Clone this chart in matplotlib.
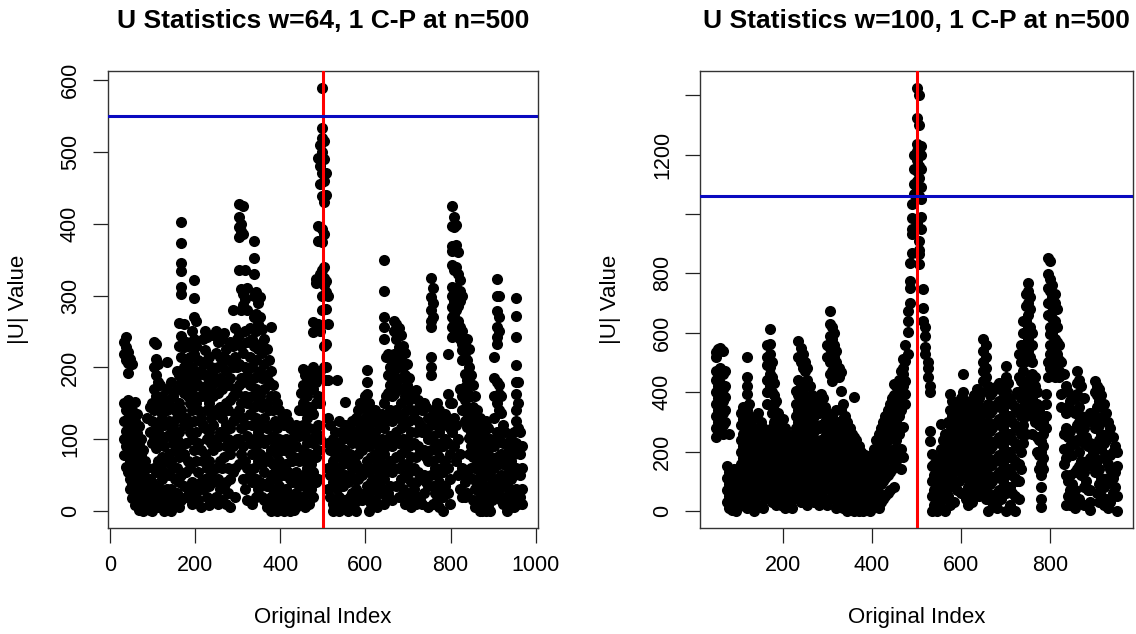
import matplotlib
matplotlib.use("Agg")
import matplotlib.pyplot as plt

plt.rcParams['font.family'] = ['Liberation Sans', 'DejaVu Sans']

# ---- panel 1: w=64 ----
idx1 = list(range(33, 969, 5))
u1 = [
    [235, 218, 150, 125, 100, 78], [242, 228, 210, 140, 112, 90, 62],
    [222, 206, 192, 155, 130, 105, 80, 55], [212, 148, 120, 95, 70, 45, 30],
    [205, 140, 112, 85, 60, 38, 18], [152, 125, 100, 75, 48, 22, 8],
    [135, 108, 88, 65, 40, 15], [118, 92, 70, 30, 10, 2],
    [100, 78, 55, 25, 5], [85, 60, 42, 18, 0], [70, 48, 30, 12],
    [130, 60, 35, 20, 5], [145, 110, 45, 25, 2], [150, 125, 95, 40, 15, 0],
    [235, 200, 170, 140, 100, 60, 30, 8], [232, 212, 190, 160, 120, 88, 55, 22],
    [205, 180, 145, 110, 70, 35, 5], [175, 150, 125, 95, 60, 20],
    [160, 135, 100, 75, 45, 10], [150, 120, 90, 55, 25, 0],
    [207, 170, 140, 105, 68, 30, 5], [155, 125, 80, 50, 15],
    [180, 145, 110, 70, 30, 0], [160, 120, 95, 60, 20],
    [140, 110, 85, 45, 10], [195, 170, 130, 100, 60, 25],
    [262, 230, 190, 150, 110, 75, 40, 5],
    [402, 373, 346, 334, 312, 302, 243, 215, 180, 140, 90, 50, 15],
    [260, 228, 200, 165, 120, 80, 35], [235, 205, 170, 130, 95, 55, 20],
    [230, 190, 160, 120, 70, 30], [215, 180, 150, 110, 60, 20],
    [250, 200, 170, 140, 100, 40, 10],
    [321, 297, 270, 240, 219, 195, 160, 125, 85, 35],
    [264, 230, 185, 150, 110, 70, 25], [210, 175, 140, 95, 55, 15],
    [195, 160, 130, 85, 40, 5], [240, 205, 170, 120, 70, 30],
    [251, 224, 190, 160, 115, 80, 45], [242, 210, 175, 140, 100, 60, 20],
    [215, 180, 150, 110, 70, 35, 8], [200, 170, 130, 95, 50, 15],
    [245, 190, 160, 120, 85, 40], [250, 220, 180, 140, 100, 60, 20],
    [235, 200, 165, 135, 90, 45, 10], [215, 185, 145, 110, 70, 30],
    [240, 200, 170, 130, 105, 60, 15], [248, 215, 180, 140, 110, 75, 35],
    [225, 195, 150, 120, 90, 40, 10], [210, 175, 140, 100, 60, 25],
    [235, 185, 155, 115, 80, 45, 5], [280, 230, 200, 160, 125, 90, 55],
    [255, 215, 170, 135, 95, 60, 20], [240, 200, 165, 130, 100],
    [428, 409, 395, 381, 335, 245, 205, 175, 140, 100, 65],
    [400, 390, 309, 280, 230, 185, 150, 115, 80],
    [425, 385, 302, 287, 220, 180, 130, 90, 45],
    [335, 295, 250, 200, 160, 120, 70, 30],
    [310, 280, 235, 190, 150, 105, 60, 15], [255, 215, 175, 135, 95, 50],
    [240, 200, 160, 120, 80, 40, 10],
    [376, 352, 330, 300, 270, 230, 185, 145, 100, 60],
    [305, 275, 250, 210, 170, 130, 90, 45, 20],
    [290, 260, 225, 190, 150, 110, 70, 30],
    [298, 270, 232, 195, 160, 120, 80, 40],
    [254, 220, 185, 145, 100, 65, 20], [240, 205, 170, 130, 95, 55, 15],
    [225, 190, 150, 115, 75, 35, 5], [210, 180, 140, 100, 70, 40, 10],
    [256, 195, 160, 120, 85, 50, 20, 0], [175, 140, 105, 65, 30, 5],
    [160, 125, 90, 55, 20], [150, 115, 80, 45, 15, 0],
    [140, 100, 70, 35, 10], [130, 95, 60, 25, 5], [120, 85, 50, 20, 0],
    [135, 100, 65, 30, 8], [125, 90, 55, 25, 5], [115, 80, 45, 15, 0],
    [100, 70, 40, 12], [110, 75, 45, 20, 2], [120, 90, 55, 25, 5],
    [140, 105, 70, 35, 10], [165, 140, 110, 75, 40, 15],
    [198, 175, 150, 120, 85, 50, 20], [190, 168, 140, 105, 70, 35, 5],
    [182, 160, 130, 95, 60, 25], [195, 175, 145, 115, 80, 45, 10],
    [190, 170, 140, 100, 65, 30], [263, 249, 200, 170, 135, 95, 55, 20],
    [323, 318, 180, 150, 110, 75, 40],
    [492, 397, 376, 260, 190, 160, 120, 85, 45],
    [510, 480, 455, 330, 320, 250, 195, 150, 100],
    [589, 533, 520, 500, 470, 438, 393, 375, 335, 300, 280],
    [515, 490, 460, 430, 385, 340, 325, 315, 230, 200],
    [470, 440, 320, 305, 281, 233, 200, 182],
    [300, 260, 182, 130, 95, 60, 30], [120, 85, 50, 20],
    [100, 70, 40, 10, 0], [110, 80, 45, 15], [183, 95, 60, 30, 5],
    [125, 90, 55, 20, 0], [110, 75, 40, 10], [100, 65, 35, 5],
    [152, 120, 85, 50, 15], [105, 70, 40, 10, 0], [115, 80, 50, 20],
    [125, 95, 60, 25, 5], [110, 75, 45, 10], [130, 100, 65, 30, 0],
    [140, 110, 80, 45, 15], [150, 120, 90, 55, 20], [145, 115, 85, 50, 15],
    [160, 130, 100, 60, 25], [196, 180, 163, 140, 110, 70, 35],
    [150, 120, 90, 55, 20, 0], [135, 105, 75, 40, 10], [125, 95, 60, 30],
    [140, 110, 80, 45, 15], [130, 100, 70, 35, 5], [120, 90, 55, 25],
    [135, 100, 65, 30],
    [350, 307, 270, 256, 240, 150, 115, 80, 45, 10],
    [215, 160, 125, 90, 55, 20], [219, 190, 165, 130, 95, 60, 25],
    [200, 175, 140, 105, 70, 35], [210, 185, 160, 125, 90, 55, 15],
    [265, 250, 219, 190, 163, 130, 100, 60],
    [260, 240, 205, 175, 140, 110, 75, 35],
    [255, 228, 200, 170, 130, 95, 60, 20],
    [245, 215, 185, 150, 115, 80, 45], [230, 200, 170, 135, 100, 65, 30],
    [220, 190, 160, 120, 85, 50, 10], [205, 175, 140, 100, 65, 25],
    [185, 155, 125, 90, 55, 20], [165, 140, 110, 75, 40, 5],
    [160, 130, 95, 60, 30], [168, 140, 110, 75, 40, 10],
    [155, 125, 90, 55, 20], [150, 120, 85, 50, 15], [140, 110, 80, 45, 10],
    [150, 115, 85, 50, 25], [145, 110, 75, 40], [130, 100, 70, 35, 5],
    [325, 298, 280, 265, 256, 214, 200, 189, 120, 85, 50],
    [310, 290, 270, 140, 105, 70, 35, 10], [130, 95, 60, 25],
    [150, 120, 85, 50, 15], [140, 110, 75, 40, 5], [130, 95, 60, 30],
    [120, 90, 55, 20, 0], [135, 100, 70, 35], [219, 163, 125, 95, 60, 25],
    [150, 115, 80, 45, 10],
    [425, 397, 369, 362, 342, 312, 300, 284, 270, 256, 242, 150, 110],
    [409, 395, 365, 335, 305, 293, 275, 260, 245, 130, 90],
    [398, 370, 340, 310, 295, 280, 265, 250, 120, 70],
    [360, 330, 300, 285, 265, 250, 100, 50],
    [321, 307, 293, 256, 240, 170, 80, 30],
    [300, 250, 233, 224, 210, 160, 140, 60, 20],
    [233, 214, 191, 173, 155, 126, 57, 40, 20],
    [240, 210, 182, 165, 145, 136, 117, 50, 25],
    [226, 200, 180, 160, 140, 101, 80], [190, 160, 130, 110, 90, 60],
    [175, 145, 120, 100, 75, 45, 15], [160, 135, 110, 85, 60, 30, 5],
    [140, 115, 90, 65, 40, 15], [130, 105, 80, 55, 25, 0],
    [120, 95, 70, 45, 15, 0], [110, 90, 65, 35, 10],
    [125, 100, 75, 50, 20, 0], [115, 85, 60, 30, 5], [100, 75, 50, 25, 0],
    [95, 70, 40, 15], [214, 185, 160, 130, 90, 60, 35],
    [323, 300, 279, 256, 242, 233, 180, 150, 110, 75, 45, 20],
    [300, 270, 250, 175, 163, 140, 100, 65, 30],
    [160, 136, 110, 80, 50, 15], [120, 95, 65, 35, 10], [110, 80, 50, 20],
    [95, 70, 40, 15, 0], [85, 60, 30, 8], [100, 70, 45, 20],
    [110, 80, 50, 25, 5],
    [297, 272, 242, 203, 180, 163, 140, 126, 95, 60, 30],
    [180, 150, 115, 85, 55, 25, 10], [110, 80, 50, 20], [90, 60, 30, 10],
]

# ---- panel 2: w=100 ----
idx2 = list(range(50, 951, 5))
u2 = [
    [535, 520, 470, 440, 400, 360, 320, 280, 250], [545, 455, 420, 380, 340, 300, 265],
    [550, 480, 430, 395, 350, 310, 270], [540, 460, 410, 370, 330, 290, 260],
    [470, 420, 385, 340, 300], [150, 110, 70, 30], [260, 130, 90, 50, 10],
    [120, 80, 40, 5], [140, 100, 60, 20], [110, 70, 30, 0], [90, 50, 15],
    [330, 290, 240, 200, 160, 120, 80], [350, 310, 260, 220, 180, 130, 60, 20],
    [300, 250, 210, 170, 140, 90, 40],
    [517, 450, 420, 394, 340, 290, 240, 190, 150, 100, 50, 10],
    [360, 320, 270, 220, 180, 130, 80, 30], [310, 260, 210, 170, 120, 60],
    [280, 240, 200, 150, 100, 40, 0], [250, 210, 170, 130, 90, 50],
    [330, 260, 220, 180, 140, 100, 60, 20], [300, 240, 200, 160, 120, 80],
    [280, 230, 190, 150, 110, 60, 10], [250, 210, 170, 130, 90, 40],
    [560, 520, 490, 440, 400, 360, 230, 190, 140, 90, 50],
    [612, 562, 530, 484, 461, 420, 260, 210, 160, 110, 60],
    [500, 450, 400, 330, 280, 230, 170, 120, 80, 30],
    [430, 390, 360, 300, 250, 200, 150, 100, 50],
    [372, 320, 270, 220, 180, 130, 70, 20], [330, 290, 240, 200, 150, 100, 40],
    [300, 260, 210, 170, 120, 70, 20], [310, 270, 230, 190, 140, 90, 40],
    [280, 240, 200, 160, 110, 60, 10], [260, 220, 180, 140, 90, 50],
    [240, 200, 160, 120, 80, 30], [230, 190, 150, 110, 60, 10],
    [260, 210, 170, 130, 90, 40], [405, 360, 320, 280, 240, 200, 150, 100, 60],
    [573, 520, 440, 390, 340, 300, 250, 200, 160, 110],
    [550, 500, 420, 370, 330, 280, 230, 180, 130, 80, 30],
    [530, 480, 400, 350, 305, 260, 210, 160, 110, 60],
    [500, 472, 430, 380, 330, 280, 240, 190, 140, 90, 40],
    [480, 440, 360, 310, 260, 210, 170, 120, 70, 20],
    [420, 380, 340, 290, 240, 190, 140, 90, 40],
    [390, 350, 300, 250, 200, 150, 110, 60],
    [360, 320, 270, 220, 180, 130, 80, 30], [340, 290, 240, 200, 150, 100, 50],
    [370, 330, 280, 230, 180, 130, 80, 20], [394, 340, 290, 240, 200, 150, 100, 50],
    [380, 330, 280, 230, 180, 120, 70], [350, 300, 250, 200, 150, 100, 40],
    [560, 520, 330, 280, 230, 180, 130, 80, 20],
    [674, 629, 590, 550, 500, 460, 300, 250, 200, 150, 100],
    [620, 580, 540, 510, 470, 439, 320, 270, 220, 170, 120, 60],
    [600, 560, 520, 480, 450, 290, 240, 190, 140, 90, 40],
    [540, 500, 460, 340, 270, 220, 170, 120, 70, 10],
    [480, 450, 300, 250, 200, 150, 100, 50],
    [467, 405, 340, 280, 230, 180, 130, 80, 30],
    [360, 310, 260, 210, 160, 110, 60, 10], [320, 280, 230, 180, 130, 80, 30],
    [300, 250, 210, 160, 110, 60, 0], [280, 230, 190, 140, 90, 40],
    [260, 210, 170, 120, 70, 20], [383, 250, 200, 150, 100, 50, 0],
    [240, 190, 140, 90, 40], [220, 180, 130, 80, 30, 0], [200, 160, 110, 60, 20],
    [180, 140, 90, 50, 0], [190, 150, 100, 60, 10], [170, 130, 80, 30],
    [160, 120, 70, 20, 0], [190, 150, 100, 50, 10], [210, 170, 120, 70, 20],
    [240, 200, 150, 100, 50], [260, 220, 170, 120, 60, 10],
    [280, 240, 190, 140, 90, 30], [300, 250, 200, 150, 100, 40],
    [320, 270, 220, 170, 110, 50], [340, 290, 240, 180, 120, 60],
    [360, 310, 250, 190, 130, 70], [380, 330, 270, 200, 140],
    [428, 390, 340, 280, 210, 150, 80], [420, 360, 300, 240, 170],
    [440, 380, 320, 260, 190], [470, 400, 340, 280, 210, 140],
    [512, 480, 461, 420, 282, 181], [560, 506, 439, 394, 360],
    [674, 640, 601, 530], [836, 775, 752, 700], [1032, 987, 948, 931, 870],
    [1066, 1100, 1150, 1200],
    [1424, 1323, 1234, 1211, 1180, 1144, 1111, 1088, 1060, 971],
    [1400, 1300, 1220, 1160, 1120, 1060, 909, 880, 864, 831],
    [1230, 1200, 1150, 1090, 1050, 990, 950], [747, 685, 640],
    [618, 590, 551, 528], [500, 480, 450], [420, 400, 271, 237],
    [193, 150, 100, 50, 0], [160, 120, 70, 20], [140, 90, 40, 0],
    [180, 130, 80, 30], [293, 210, 160, 110, 60, 10], [240, 190, 140, 90, 40],
    [260, 210, 160, 110, 60, 0], [300, 250, 200, 150, 100, 50],
    [394, 340, 290, 240, 190, 140, 80, 20], [370, 320, 270, 220, 170, 120],
    [350, 300, 250, 200, 150, 90, 30], [340, 290, 240, 190, 140, 70],
    [360, 310, 260, 210, 160, 100], [380, 330, 280, 230, 180, 130, 60],
    [461, 400, 350, 300, 250, 200, 140], [370, 320, 270, 220, 170, 110, 40],
    [350, 300, 250, 200, 140, 80, 20], [330, 280, 230, 180, 120, 60],
    [360, 310, 260, 210, 150, 90, 30], [390, 340, 290, 240, 180, 120, 50],
    [410, 360, 310, 260, 200, 140, 80], [380, 330, 280, 230, 170, 110, 50],
    [400, 350, 300, 250, 190, 130, 70],
    [579, 540, 500, 470, 439, 330, 270, 210, 150, 90],
    [560, 520, 480, 450, 350, 290, 230, 170, 110, 40],
    [420, 360, 300, 240, 180, 120, 60, 0], [390, 330, 270, 210, 150, 90],
    [400, 340, 280, 220, 160, 100, 30], [410, 350, 290, 230, 170, 110, 50],
    [420, 360, 300, 240, 180, 120, 60, 10], [430, 370, 310, 250, 190, 130, 70],
    [410, 350, 290, 230, 170, 110, 40], [400, 340, 280, 220, 160, 100],
    [489, 450, 405, 360, 300, 240, 180, 120, 60, 0],
    [430, 380, 320, 260, 200, 140, 80], [380, 320, 260, 200, 140, 80, 20],
    [360, 300, 240, 180, 120, 60], [350, 290, 230, 170, 110, 50, 0],
    [400, 340, 280, 220, 160, 100],
    [528, 450, 394, 340, 280, 220, 160, 100, 40],
    [560, 500, 439, 380, 320, 260, 200, 140],
    [640, 600, 560, 520, 470, 410, 350, 290, 230],
    [730, 690, 640, 600, 540, 506, 380, 320, 260],
    [769, 740, 700, 660, 618, 580, 540, 420, 360],
    [720, 680, 620, 560, 520, 450, 400, 340],
    [600, 560, 500, 460, 380, 320, 260], [450, 420, 360, 300],
    [400, 360, 310, 250, 200], [340, 290, 240, 190, 140],
    [237, 200, 160, 120, 80, 40, 13], [300, 260, 220, 180, 140],
    [394, 360, 320, 280], [853, 797, 752, 700, 660, 500, 450],
    [842, 780, 740, 700, 660, 618, 596, 560, 528, 480],
    [760, 720, 690, 650, 600, 560, 517, 470],
    [730, 700, 640, 580, 540, 500, 450], [680, 620, 570, 530, 490],
    [560, 510, 470, 450], [500, 460, 394, 350], [460, 260, 210, 160],
    [420, 330, 280, 180, 120, 20], [400, 350, 250, 200, 100, 50],
    [370, 270, 220, 120, 70, 20], [340, 240, 190, 90, 40],
    [380, 330, 230, 130, 70, 10], [472, 430, 394, 290, 240, 140],
    [440, 350, 300, 200, 150, 40], [420, 320, 270, 170, 120],
    [380, 280, 230, 130, 80, 20], [300, 250, 150, 100],
    [320, 220, 170, 70], [330, 230, 180, 70, 30, 2],
    [300, 200, 150], [439, 400, 320, 280, 180, 130],
    [420, 390, 350, 316, 220, 170, 60], [410, 370, 290, 240, 140, 90, 30],
    [390, 350, 260, 210, 110, 50], [360, 320, 230, 180, 80, 20],
    [330, 240, 190, 90, 40], [300, 260, 160, 110, 10],
    [280, 190, 140, 30], [250, 200, 110, 60], [220, 130, 80],
    [200, 150, 50, 0],
]

titles = ["U Statistics w=64, 1 C-P at n=500", "U Statistics w=100, 1 C-P at n=500"]
thresholds = [550, 1060]
change_point = 500


def expand(cols, vals):
    xs, ys = [], []
    for x, col in zip(cols, vals):
        for v in col:
            xs.append(x)
            ys.append(v)
    return xs, ys


fig = plt.figure(figsize=(11.36, 6.34), dpi=100)
ax1 = fig.add_axes([0.0951, 0.1672, 0.3785, 0.7208])
ax2 = fig.add_axes([0.6162, 0.1672, 0.3812, 0.7208])

panels = [
    (ax1, idx1, u1, (-4.4, 1005.4), (-23.6, 612.6),
     [0, 200, 400, 600, 800, 1000], [0, 100, 200, 300, 400, 500, 600],
     ['0', '100', '200', '300', '400', '500', '600']),
    (ax2, idx2, u2, (14, 986), (-57, 1481),
     [200, 400, 600, 800], [0, 200, 400, 600, 800, 1000, 1200, 1400],
     ['0', '200', '400', '600', '800', '', '1200', '']),
]

for i, (ax, cols, vals, xl, yl, xt, yt, ytl) in enumerate(panels):
    xs, ys = expand(cols, vals)
    ax.scatter(xs, ys, s=64, c='black', linewidths=0, zorder=2)
    ax.axvline(change_point, color='#ff0000', lw=2.2, zorder=3)
    ax.axhline(thresholds[i], color='#0a0ac0', lw=2.2, zorder=3)
    ax.set_xlim(*xl)
    ax.set_ylim(*yl)
    ax.set_xticks(xt)
    ax.set_yticks(yt)
    ax.set_yticklabels(ytl)
    ax.tick_params(length=10.5, width=0.9, pad=9, labelsize=15.5, color='#222222')
    ax.tick_params(axis='y', labelrotation=90)
    for lab in ax.get_yticklabels():
        lab.set_verticalalignment('center')
    for sp in ax.spines.values():
        sp.set_linewidth(1.0)
        sp.set_color('#333333')
    ax.set_xlabel('Original Index', fontsize=16, labelpad=22)
    ax.set_ylabel('|U| Value', fontsize=16, labelpad=22)
    ax.set_title(titles[i], fontsize=19, fontweight='bold', pad=31)

fig.savefig('out.png', dpi=100)
